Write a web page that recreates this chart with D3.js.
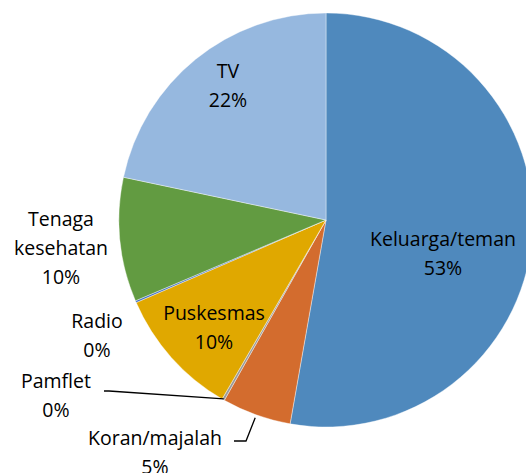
<!DOCTYPE html>
<html lang="en">
<head>
	<meta charset="utf-8">
	<title>Pie chart: sumber informasi</title>
	<script src="https://cdn.jsdelivr.net/npm/d3@7"></script>
	<style>
		body { margin: 0; background: #fff; }
		text { font-family: "Open Sans", sans-serif; font-size: 19.5px; fill: #000; }
	</style>
</head>
<body>
	<script>
		// data (percent)
		var categories = ["Keluarga/teman", "Koran/majalah", "Pamflet", "Puskesmas", "Radio", "Tenaga kesehatan", "TV"];
		var values = [52.8, 5.4, 0.2, 10.1, 0.15, 9.7, 21.7];
		var colors = ["#4F89BD", "#D36C2E", "#9A9A9A", "#E0A800", "#4472C4", "#629B41", "#96B8DF"];

		var w = 526, h = 473;
		var cx = 326, cy = 220, r = 207;

		// label placement relative to pie center (lines of text, dx, dy of first line)
		var labelLayout = {
			"Keluarga/teman": { lines: ["Keluarga/teman"], dx: 117, dy: 26 },
			"Koran/majalah": { lines: ["Koran/majalah"], dx: -171, dy: 225 },
			"Pamflet": { lines: ["Pamflet"], dx: -270, dy: 168 },
			"Puskesmas": { lines: ["Puskesmas"], dx: -112, dy: 100 },
			"Radio": { lines: ["Radio"], dx: -229, dy: 108 },
			"Tenaga kesehatan": { lines: ["Tenaga", "kesehatan"], dx: -265, dy: 6 },
			"TV": { lines: ["TV"], dx: -98, dy: -142 }
		};
		var lineH = 29;

		var data = categories.map(function (c, i) {
			return { name: c, value: values[i], color: colors[i] };
		});

		var total = d3.sum(values);

		var svg = d3.select("body").append("svg")
			.attr("width", w)
			.attr("height", h);

		var g = svg.append("g")
			.attr("transform", `translate(${cx},${cy})`);

		var pie = d3.pie()
			.sort(null)
			.value(function (d) { return d.value; });

		var arc = d3.arc()
			.innerRadius(0)
			.outerRadius(r);

		var arcs = pie(data);

		g.selectAll("path.slice")
			.data(arcs)
			.enter()
			.append("path")
			.attr("class", "slice")
			.attr("d", arc)
			.attr("fill", d => d.data.color)
			.attr("stroke", "#fff")
			.attr("stroke-width", 0.4);

		// leader lines for the small outside slices
		function edgePoint(d, rr) {
			var a = (d.startAngle + d.endAngle) / 2;
			return [rr * Math.sin(a), -rr * Math.cos(a)];
		}

		var pam = arcs[2], kor = arcs[1];
		var p1 = edgePoint(pam, r - 1);
		var pamLine = [p1, [-217, 171], [-222, 171]];
		var p2 = edgePoint(kor, r + 3);
		var korLine = [p2, [-80, 221], [-92, 221]];

		g.selectAll("path.leader")
			.data([pamLine, korLine])
			.enter()
			.append("path")
			.attr("class", "leader")
			.attr("d", d3.line())
			.attr("fill", "none")
			.attr("stroke", "#000")
			.attr("stroke-width", 1.3);

		// labels
		var labels = g.selectAll("text.lbl")
			.data(arcs)
			.enter()
			.append("text")
			.attr("class", "lbl")
			.attr("text-anchor", "middle");

		labels.each(function (d) {
			var L = labelLayout[d.data.name];
			var t = d3.select(this);
			var lines = L.lines.concat([Math.round(d.data.value / total * 100) + "%"]);
			lines.forEach(function (s, i) {
				t.append("tspan")
					.attr("x", L.dx)
					.attr("y", L.dy + i * lineH)
					.text(s);
			});
		});
	</script>
</body>
</html>
